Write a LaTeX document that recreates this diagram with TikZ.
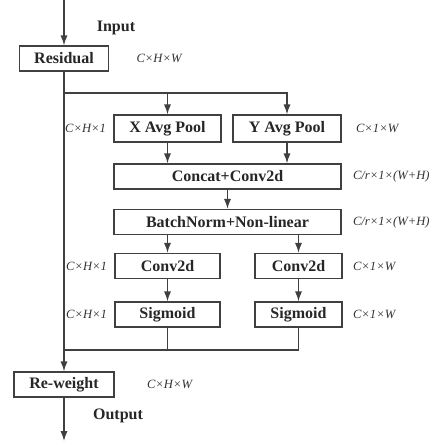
\documentclass[tikz,border=0pt]{standalone}
\usepackage{fontspec}
\setmainfont{Liberation Serif}
\usetikzlibrary{positioning,arrows.meta}
\tikzset{
block/.style={draw=black!75, line width=0.65pt, fill=white, minimum height=12.5pt, inner sep=0pt, text=black!85, font=\bfseries\fontsize{8}{9}\selectfont},
dimlabel/.style={inner sep=0pt, text=black!80, font=\itshape\fontsize{6.3}{8}\selectfont},
iolabel/.style={inner sep=0pt, text=black!85, font=\bfseries\fontsize{8}{9}\selectfont},
flow/.style={draw=black!75, line width=0.65pt},
arr/.style={flow, -{Latex[length=5pt,width=3.6pt]}}
}

\begin{document}
\begin{tikzpicture}[x=0.5pt,y=0.5pt]
	\useasboundingbox (0,0) rectangle (429,441);
	\coordinate (in) at (64,441);
	\coordinate (out) at (64,0);
	\coordinate (split) at (64,348);
	\coordinate (merge) at (64,91);
	% blocks
	\node[block, minimum width=44.5pt] (res) at (64,382.5) {Residual};
	\node[block, minimum width=53.5pt, minimum height=13.5pt] (xpool) at (167.5,312.5) {X Avg Pool};
	\node[block, minimum width=54pt, minimum height=13.5pt] (ypool) at (287,312.5) {Y Avg Pool};
	\node[block, minimum width=113.5pt] (concat) at (227.5,264.5) {Concat+Conv2d};
	\node[block, minimum width=113.5pt] (bnorm) at (227.5,219) {BatchNorm+Non-linear};
	\node[block, minimum width=52.5pt] (convx) at (167.5,175) {Conv2d};
	\node[block, minimum width=43.5pt] (convy) at (298.5,175) {Conv2d};
	\node[block, minimum width=52.5pt] (sigx) at (167.5,126.5) {Sigmoid};
	\node[block, minimum width=43.5pt] (sigy) at (298.5,126.5) {Sigmoid};
	\node[block, minimum width=50pt] (rew) at (64,56.5) {Re-weight};
	% texts
	\node[iolabel] (inlbl) at (116,413) {Input};
	\node[iolabel] (outlbl) at (118,25) {Output};
	\node[dimlabel, right=13.5pt of res] (resdim) {C×H×W};
	\node[dimlabel, right=16pt of rew] (rewdim) {C×H×W};
	\node[dimlabel, left=3.5pt of xpool] (xpooldim) {C×H×1};
	\node[dimlabel, right=7pt of ypool] (ypooldim) {C×1×W};
	\node[dimlabel, right=5.5pt of concat] (concatdim) {C/r×1×(W+H)};
	\node[dimlabel, right=5.5pt of bnorm] (bnormdim) {C/r×1×(W+H)};
	\node[dimlabel, left=3.5pt of convx] (convxdim) {C×H×1};
	\node[dimlabel, right=5pt of convy] (convydim) {C×1×W};
	\node[dimlabel, left=3.5pt of sigx] (sigxdim) {C×H×1};
	\node[dimlabel, right=5pt of sigy] (sigydim) {C×1×W};
	% connectors
	\draw[arr] (in) -- (res);
	\draw[arr] (res) -- (rew);
	\draw[arr] (rew) -- (out);
	\draw[arr] (split) -| (ypool.north);
	\draw[arr] (split -| xpool.north) -- (xpool.north);
	\draw[arr] (xpool.south) -- (xpool.south |- concat.north);
	\draw[arr] (ypool.south) -- (ypool.south |- concat.north);
	\draw[arr] (concat) -- (bnorm);
	\draw[arr] (bnorm.south -| convx) -- (convx);
	\draw[arr] (bnorm.south -| convy) -- (convy);
	\draw[arr] (convx) -- (sigx);
	\draw[arr] (convy) -- (sigy);
	\draw[flow] (sigx.south) -- (sigx.south |- merge);
	\draw[flow] (sigy.south) |- (merge);
\end{tikzpicture}
\end{document}
